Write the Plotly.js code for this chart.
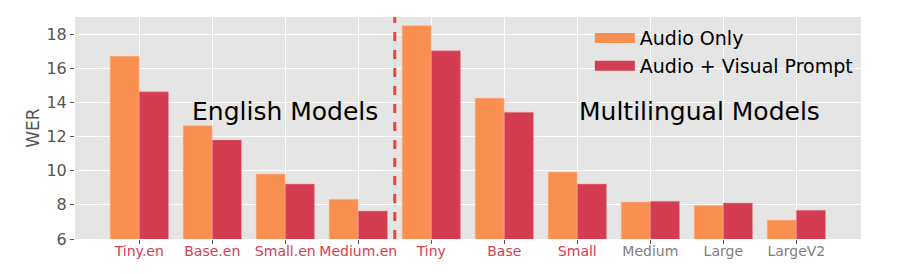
<!DOCTYPE html>
<html>
<head>
<meta charset="utf-8">
<script src="https://cdn.plot.ly/plotly-3.0.1.min.js"></script>
<style>html,body{margin:0;padding:0;background:#fff;}#chart{width:913px;height:274px;}</style>
</head>
<body>
<div id="chart"></div>
<script>
const models = ["Tiny.en","Base.en","Small.en","Medium.en","Tiny","Base","Small","Medium","Large","LargeV2"];
const audioOnly = [16.71, 12.64, 9.81, 8.33, 18.50, 14.25, 9.93, 8.17, 7.97, 7.11];
const audioVisual = [14.62, 11.80, 9.22, 7.64, 17.02, 13.42, 9.22, 8.21, 8.11, 7.68];
const labelColors = ["#d43d51","#d43d51","#d43d51","#d43d51","#d43d51","#d43d51","#d43d51","#808080","#808080","#808080"];
const yTicks = [6, 8, 10, 12, 14, 16, 18];

const orange = "#f98f51";
const red = "#d43d51";
const font = "DejaVu Sans, Verdana, sans-serif";

const idx = models.map((_, i) => i);
const ticktext = models.map((m, i) => `<span style="color:${labelColors[i]}">${m}</span>`);

const traces = [
  {type: "bar", name: "Audio Only", x: idx, y: audioOnly, marker: {color: orange, line: {color: "rgba(255,200,170,0.6)", width: 1}}, showlegend: false, hoverinfo: "y"},
  {type: "bar", name: "Audio + Visual Prompt", x: idx, y: audioVisual, marker: {color: red, line: {color: "rgba(240,150,160,0.5)", width: 1}}, showlegend: false, hoverinfo: "y"},
  {type: "scatter", mode: "lines", name: "Audio Only", x: [null], y: [null], line: {color: orange, width: 13}, showlegend: true},
  {type: "scatter", mode: "lines", name: "Audio + Visual Prompt", x: [null], y: [null], line: {color: red, width: 13}, showlegend: true}
];

const layout = {
  width: 913, height: 274,
  margin: {l: 75, r: 52, t: 17, b: 35},
  paper_bgcolor: "#ffffff",
  plot_bgcolor: "#e5e5e5",
  font: {family: font, color: "#555555"},
  barmode: "group",
  bargap: 0.2,
  bargroupgap: 0,
  xaxis: {
    range: [-0.88, 9.886],
    tickvals: idx, ticktext: ticktext,
    tickfont: {size: 14},
    showgrid: true, gridcolor: "#ffffff", gridwidth: 1,
    ticks: "outside", ticklen: 4, tickcolor: "#555555",
    ticklabelstandoff: -5,
    zeroline: false, showline: false
  },
  yaxis: {
    range: [6, 19.0],
    tickvals: yTicks,
    tickfont: {size: 16, color: "#555555"},
    showgrid: true, gridcolor: "#ffffff", gridwidth: 1,
    ticks: "outside", ticklen: 4, tickcolor: "#555555",
    zeroline: false, showline: false,
    title: {text: "WER", font: {size: 17, color: "#555555"}, standoff: 2}
  },
  legend: {
    x: 0.655, y: 0.99, xanchor: "left", yanchor: "top",
    bgcolor: "rgba(0,0,0,0)",
    font: {size: 19, color: "#000000"},
    itemwidth: 40,
    tracegroupgap: 0
  },
  shapes: [
    {type: "line", xref: "x", yref: "paper", x0: 3.5, x1: 3.5, y0: 0, y1: 1, line: {color: "#e8463c", width: 3, dash: "dash"}}
  ],
  annotations: [
    {x: 2.0, y: 13.44, xref: "x", yref: "y", text: "English Models", showarrow: false, font: {size: 25, color: "#000000", family: font}},
    {x: 7.68, y: 13.44, xref: "x", yref: "y", text: "Multilingual Models", showarrow: false, font: {size: 25, color: "#000000", family: font}}
  ]
};

Plotly.newPlot("chart", traces, layout, {staticPlot: true, displayModeBar: false});
</script>
</body>
</html>
